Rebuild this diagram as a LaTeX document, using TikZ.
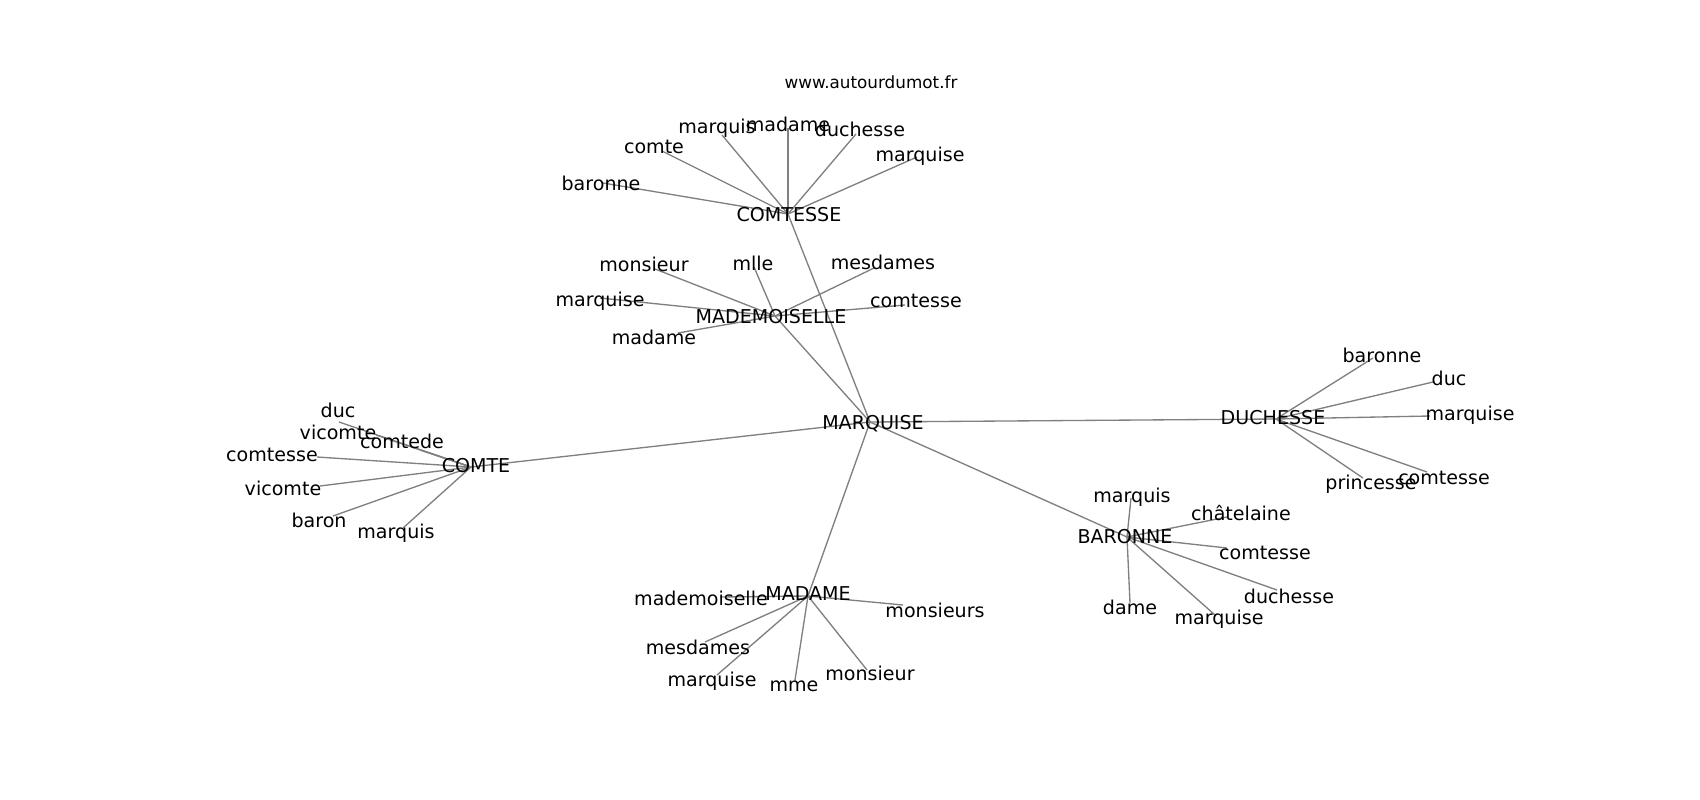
\documentclass[tikz,border=0pt]{standalone}
\usepackage{fontspec}
\setmainfont{DejaVu Sans}
\begin{document}
\begin{tikzpicture}[x=0.75pt,y=-0.75pt,
  edge/.style={draw=gray,line width=1pt},
  lbl/.style={inner sep=0pt,outer sep=0pt,anchor=center,text height=10.9pt,text depth=3.4pt,font=\fontsize{14.3}{17}\selectfont,text=black},
  leaf/.style={lbl,yshift=-1.5pt},
  ttl/.style={inner sep=0pt,anchor=center,text height=9.6pt,text depth=3pt,font=\fontsize{12.6}{15}\selectfont,text=black,yshift=-0.8pt}]
\useasboundingbox[fill=white] (0,0) rectangle (1700,800);
% hubs
\coordinate (marquise) at (870,422);
\coordinate (comtesse) at (788,214);
\coordinate (mademoiselle) at (775,316);
\coordinate (comte) at (471,467);
\coordinate (duchesse) at (1276,419);
\coordinate (baronne) at (1127,537);
\coordinate (madame) at (808,596);
% leaves of COMTESSE
\coordinate (c1) at (603,183);
\coordinate (c2) at (662,151);
\coordinate (c3) at (722,135);
\coordinate (c4) at (788,128);
\coordinate (c5) at (856,134);
\coordinate (c6) at (917,157);
% leaves of MADEMOISELLE
\coordinate (m1) at (655,269);
\coordinate (m2) at (754,267);
\coordinate (m3) at (874,268);
\coordinate (m4) at (600,298);
\coordinate (m5) at (905,305);
\coordinate (m6) at (678,333);
% leaves of COMTE
\coordinate (k1) at (339,422);
\coordinate (k2) at (376,435);
\coordinate (k3) at (420,450);
\coordinate (k4) at (317,457);
\coordinate (k5) at (320,486);
\coordinate (k6) at (333,516);
\coordinate (k7) at (403,528);
% leaves of MADAME
\coordinate (a1) at (720,597);
\coordinate (a2) at (903,605);
\coordinate (a3) at (705,642);
\coordinate (a4) at (717,675);
\coordinate (a5) at (795,680);
\coordinate (a6) at (867,670);
% leaves of BARONNE
\coordinate (b1) at (1131,498);
\coordinate (b2) at (1227,517);
\coordinate (b3) at (1227,548);
\coordinate (b4) at (1277,590);
\coordinate (b5) at (1215,615);
\coordinate (b6) at (1130,603);
% leaves of DUCHESSE
\coordinate (d1) at (1373,358);
\coordinate (d2) at (1433,382);
\coordinate (d3) at (1430,416);
\coordinate (d4) at (1427,472);
\coordinate (d5) at (1363,478);
% edges
\foreach \h in {comtesse,mademoiselle,comte,duchesse,baronne,madame} {\draw[edge] (marquise) -- (\h);}
\foreach \l in {c1,c2,c3,c4,c5,c6} {\draw[edge] (comtesse) -- (\l);}
\foreach \l in {m1,m2,m3,m4,m5,m6} {\draw[edge] (mademoiselle) -- (\l);}
\foreach \l in {k1,k2,k3,k4,k5,k6,k7} {\draw[edge] (comte) -- (\l);}
\foreach \l in {a1,a2,a3,a4,a5,a6} {\draw[edge] (madame) -- (\l);}
\foreach \l in {b1,b2,b3,b4,b5,b6} {\draw[edge] (baronne) -- (\l);}
\foreach \l in {d1,d2,d3,d4,d5} {\draw[edge] (duchesse) -- (\l);}
% labels
\node[ttl] (title) at (871,83) {www.autourdumot.fr};
\node[lbl] (tmarquise) at (873,424) {MARQUISE};
\node[lbl] (tcomtesse) at (789,216) {COMTESSE};
\node[lbl] (tmademoiselle) at (771,318) {MADEMOISELLE};
\node[lbl] (tcomte) at (476,467) {COMTE};
\node[lbl] (tduchesse) at (1273,419) {DUCHESSE};
\node[lbl] (tbaronne) at (1125,538) {BARONNE};
\node[lbl] (tmadame) at (808,595) {MADAME};
\node[leaf] (tc1) at (601,183) {baronne};
\node[leaf] (tc2) at (654,146) {comte};
\node[leaf] (tc3) at (717,126) {marquis};
\node[leaf] (tc4) at (788,124) {madame};
\node[leaf] (tc5) at (860,129) {duchesse};
\node[leaf] (tc6) at (920,154) {marquise};
\node[leaf] (tm1) at (644,264) {monsieur};
\node[leaf] (tm2) at (753,263) {mlle};
\node[leaf] (tm3) at (883,262) {mesdames};
\node[leaf] (tm4) at (600,299) {marquise};
\node[leaf] (tm5) at (916,300) {comtesse};
\node[leaf] (tm6) at (654,337) {madame};
\node[leaf] (tk1) at (338,410) {duc};
\node[leaf] (tk2) at (338,432) {vicomte};
\node[leaf] (tk3) at (402,441) {comtede};
\node[leaf] (tk4) at (272,454) {comtesse};
\node[leaf] (tk5) at (283,488) {vicomte};
\node[leaf] (tk6) at (319,520) {baron};
\node[leaf] (tk7) at (396,531) {marquis};
\node[leaf] (ta1) at (701,598) {mademoiselle};
\node[leaf] (ta2) at (935,610) {monsieurs};
\node[leaf] (ta3) at (698,647) {mesdames};
\node[leaf] (ta4) at (712,679) {marquise};
\node[leaf] (ta5) at (794,684) {mme};
\node[leaf] (ta6) at (870,673) {monsieur};
\node[leaf] (tb1) at (1132,495) {marquis};
\node[leaf] (tb2) at (1241,513) {châtelaine};
\node[leaf] (tb3) at (1265,552) {comtesse};
\node[leaf] (tb4) at (1289,596) {duchesse};
\node[leaf] (tb5) at (1219,617) {marquise};
\node[leaf] (tb6) at (1130,607) {dame};
\node[leaf] (td1) at (1382,355) {baronne};
\node[leaf] (td2) at (1449,378) {duc};
\node[leaf] (td3) at (1470,413) {marquise};
\node[leaf] (td4) at (1444,477) {comtesse};
\node[leaf] (td5) at (1371,482) {princesse};
\end{tikzpicture}
\end{document}
